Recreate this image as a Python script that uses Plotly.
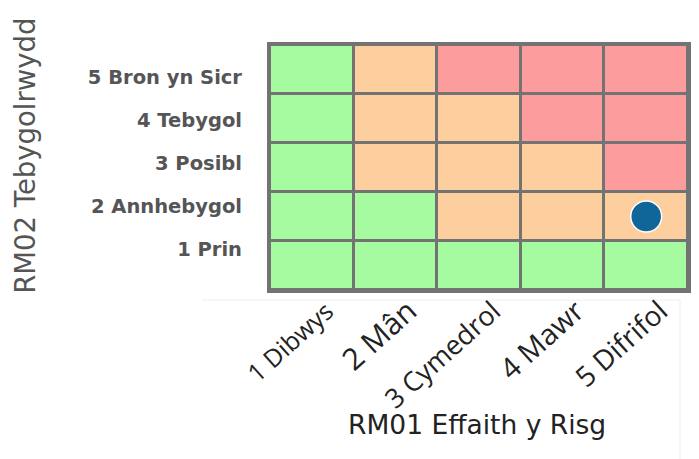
import plotly.graph_objects as go

impact_labels = ["1 Dibwys", "2 Mân", "3 Cymedrol", "4 Mawr", "5 Difrifol"]
impact_label_sizes = [25, 30, 27, 29, 28]
likelihood_labels = ["1 Prin", "2 Annhebygol", "3 Posibl", "4 Tebygol", "5 Bron yn Sicr"]

# risk level per cell: 1 = low (green), 2 = medium (orange), 3 = high (red)
# rows: likelihood 1..5, columns: impact 1..5
risk_levels = [
    [1, 1, 1, 1, 1],
    [1, 1, 2, 2, 2],
    [1, 2, 2, 2, 3],
    [1, 2, 2, 3, 3],
    [1, 2, 3, 3, 3],
]

risk_point_impact = ["5 Difrifol"]
risk_point_likelihood = ["2 Annhebygol"]

GREEN = "#a6fba0"
ORANGE = "#fdcf9e"
RED = "#fd9c9c"
GRID = "#737373"

fig = go.Figure()
# invisible trace carrying the (compressed) likelihood tick labels
fig.add_trace(go.Scatter(
    x=[impact_labels[0]] * len(likelihood_labels),
    y=likelihood_labels,
    xaxis="x", yaxis="y",
    mode="markers",
    marker=dict(opacity=0),
    hoverinfo="skip",
    showlegend=False,
))
fig.add_trace(go.Heatmap(
    x=impact_labels,
    y=likelihood_labels,
    z=risk_levels,
    xaxis="x", yaxis="y2",
    zmin=1, zmax=3,
    colorscale=[[0, GREEN], [0.333, GREEN], [0.334, ORANGE], [0.666, ORANGE],
                [0.667, RED], [1, RED]],
    showscale=False,
    xgap=3, ygap=3,
    hoverinfo="skip",
))
fig.add_trace(go.Scatter(
    x=risk_point_impact,
    y=risk_point_likelihood,
    xaxis="x", yaxis="y2",
    mode="markers",
    marker=dict(size=31, color="#116699", line=dict(color="white", width=1.5)),
    showlegend=False,
))

tick_text = [f'<span style="font-size:{s}px">{t}</span>'
             for t, s in zip(impact_labels, impact_label_sizes)]

fig.update_layout(
    width=691, height=451,
    margin=dict(l=262, r=11, t=37, b=169, autoexpand=False),
    paper_bgcolor="white",
    plot_bgcolor=GRID,
    font=dict(family="DejaVu Sans, Verdana, sans-serif"),
    xaxis=dict(
        type="category",
        anchor="y2",
        tickmode="array", tickvals=impact_labels, ticktext=tick_text,
        tickangle=-42,
        tickfont=dict(size=25, color="#222222", family="Open Sans, sans-serif"),
        showgrid=False, zeroline=False,
        showline=True, linecolor=GRID, linewidth=3, mirror=True,
        ticks="", ticklabelstandoff=-6, ticklabelshift=15,
        automargin=False,
        fixedrange=True,
    ),
    yaxis=dict(
        type="category",
        categoryorder="array", categoryarray=likelihood_labels,
        domain=[0.1085, 0.9245],
        anchor="x",
        tickfont=dict(size=19.5, color="#555555",
                      family="DejaVu Sans, Verdana, sans-serif", weight="bold"),
        showgrid=False, zeroline=False, showline=False,
        ticks="", ticklabelstandoff=27,
        automargin=False,
        fixedrange=True,
    ),
    yaxis2=dict(
        type="category",
        categoryorder="array", categoryarray=likelihood_labels,
        domain=[0, 1],
        anchor="x",
        showticklabels=False,
        showgrid=False, zeroline=False,
        showline=True, linecolor=GRID, linewidth=3, mirror=True,
        ticks="",
        automargin=False,
        fixedrange=True,
    ),
    shapes=[
        dict(type="line", xref="paper", yref="paper", layer="below",
             x0=-0.163, x1=0.981, y0=-0.041, y1=-0.041,
             line=dict(color="#efefef", width=1)),
        dict(type="line", xref="paper", yref="paper", layer="below",
             x0=0.981, x1=0.981, y0=-0.041, y1=-0.72,
             line=dict(color="#efefef", width=1)),
    ],
    annotations=[
        dict(text="RM02 Tebygolrwydd", xref="paper", yref="paper",
             x=-0.586, y=0.548, textangle=-90, showarrow=False,
             xanchor="center", yanchor="middle",
             font=dict(size=27.5, color="#555555")),
        dict(text="RM01 Effaith y Risg", xref="paper", yref="paper",
             x=0.495, y=-0.547, showarrow=False,
             xanchor="center", yanchor="middle",
             font=dict(size=26.5, color="#222222")),
    ],
)

fig.write_html("out.html")
